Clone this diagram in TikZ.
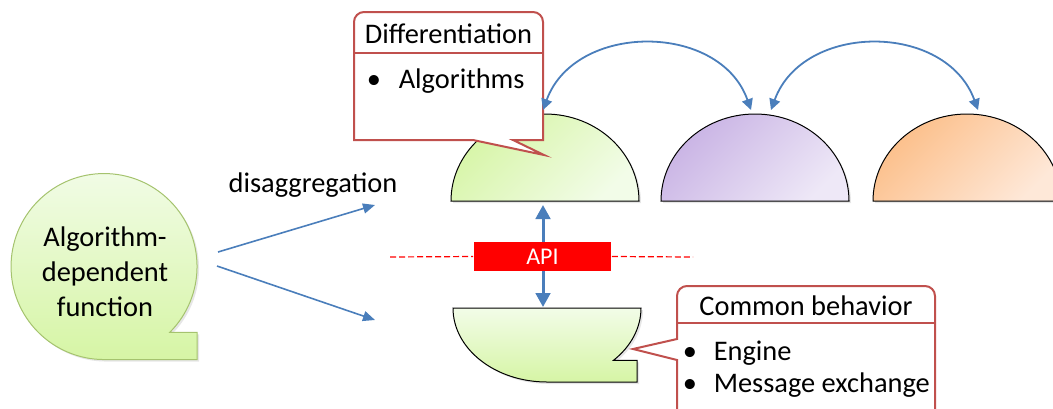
\documentclass[tikz,border=0pt]{standalone}
\usepackage{fontspec}
\setmainfont{Carlito}
\usetikzlibrary{arrows.meta,shadows}
\definecolor{arrowblue}{RGB}{74,126,187}
\definecolor{calloutred}{RGB}{192,80,77}
\definecolor{greenA}{RGB}{214,245,165}
\definecolor{greenB}{RGB}{242,252,232}
\definecolor{purpleA}{RGB}{200,178,228}
\definecolor{purpleB}{RGB}{238,232,247}
\definecolor{orangeA}{RGB}{252,190,136}
\definecolor{orangeB}{RGB}{254,232,216}
\definecolor{leafline}{RGB}{165,195,110}
\begin{document}
\begin{tikzpicture}[x=0.5pt,y=0.5pt,thick,
    font=\fontsize{14.2pt}{17.5pt}\selectfont,
    shade/.style={drop shadow={shadow xshift=1pt,shadow yshift=-1pt,opacity=0.2}},
    half/.style={shade,draw=black,line width=0.5pt,top color=#1A,bottom color=#1B,shading angle=45},
    leaf/.style={shade,draw=#1,line width=0.5pt,top color=greenB,bottom color=greenA},
    callout/.style={draw=calloutred,line width=1pt,fill=white},
    link/.style={arrowblue,line width=0.9pt,{Triangle[width=5.5pt,length=5.5pt]}-{Triangle[width=5.5pt,length=5.5pt]}},
    split/.style={arrowblue,line width=0.8pt,-{Triangle[width=5pt,length=6pt]}}]
    \useasboundingbox (0,0) rectangle (1053,-408);
    \clip (0,0) rectangle (1053,-408);

    % algorithm-dependent function
    \path[leaf=leafline] (169.8,-332.3) arc[start angle=-45,end angle=270,radius=46.5pt] -| (197,-332.3) -- cycle;
    \node[align=center] (alg) at (105,-272) {Algorithm-\\dependent\\function};

    % disaggregation
    \coordinate (fork1) at (218,-252);
    \coordinate (fork2) at (217,-266);
    \coordinate (upper) at (375,-205);
    \coordinate (lower) at (375,-320);
    \draw[split] (fork1) -- (upper);
    \draw[split] (fork2) -- (lower);
    \node[anchor=base] (dis) at (313,-192) {disaggregation};

    % specific parts
    \path[half=green] (451,-201) arc[start angle=180,end angle=0,x radius=47pt,y radius=43.5pt] -- cycle;
    \path[half=purple] (661,-201) arc[start angle=180,end angle=0,x radius=47pt,y radius=43.5pt] -- cycle;
    \path[half=orange] (873,-201) arc[start angle=180,end angle=0,x radius=47pt,y radius=43.5pt] -- cycle;

    % common part
    \path[leaf=black] (453,-308) -- (641,-308) arc[start angle=0,end angle=-45,x radius=47pt,y radius=37pt]
        -| (637,-382) -- (547,-382) arc[start angle=270,end angle=180,x radius=47pt,y radius=37pt] -- cycle;

    % API
    \coordinate (gbase) at (543,-205);
    \coordinate (ctop) at (543,-307);
    \draw[arrowblue,line width=1.5pt,{Triangle[width=7.3pt,length=7pt]}-{Triangle[width=7.3pt,length=7pt]}] (gbase) -- (ctop);
    \node[fill=red,text=white,inner sep=0pt,minimum width=68.5pt,minimum height=14.5pt,
        font=\fontsize{12pt}{14pt}\selectfont] (api) at (542.5,-256.5) {API};
    \draw[red,line width=0.6pt,dash pattern=on 3pt off 1.5pt] (390,-257) -- (api.west);
    \draw[red,line width=0.6pt,dash pattern=on 3pt off 1.5pt] (api.east) -- (693,-257);

    % differentiation callout
    \path[callout] (354,-140) -- (354,-22) arc[start angle=180,end angle=90,radius=5pt] -- (533,-12)
        arc[start angle=90,end angle=0,radius=5pt] -- (543,-140) -- (513,-140) -- (544,-155) -- (473,-140) -- cycle;
    \draw[calloutred,line width=1pt] (354,-53) -- (543,-53);
    \node[anchor=base] (diff) at (448.5,-43) {Differentiation};
    \node[anchor=base west,inner sep=0pt] (algs) at (366,-88) {\makebox[16pt][l]{\textbullet}Algorithms};

    % common behavior callout
    \path[callout] (677,-420) -- (677,-360) -- (633,-349) -- (677,-339) -- (677,-296)
        arc[start angle=180,end angle=90,radius=5pt] -- (925,-286) arc[start angle=90,end angle=0,radius=5pt] -- (935,-420) -- cycle;
    \draw[calloutred,line width=1pt] (677,-323) -- (935,-323);
    \node[anchor=base] (com) at (806,-315) {Common behavior};
    \node[anchor=base west,inner sep=0pt] (eng) at (682,-360) {\makebox[15.5pt][l]{\textbullet}Engine};
    \node[anchor=base west,inner sep=0pt] (msg) at (682,-392) {\makebox[15.5pt][l]{\textbullet}Message exchange};

    % exchanges between specific parts
    \coordinate (gtop) at (543,-110);
    \coordinate (ptop1) at (751,-110);
    \coordinate (ptop2) at (771,-110);
    \coordinate (otop) at (978,-110);
    \draw[link] (gtop) .. controls (575,-22) and (720,-22) .. (ptop1);
    \draw[link] (ptop2) .. controls (803,-22) and (946,-22) .. (otop);
\end{tikzpicture}
\end{document}
